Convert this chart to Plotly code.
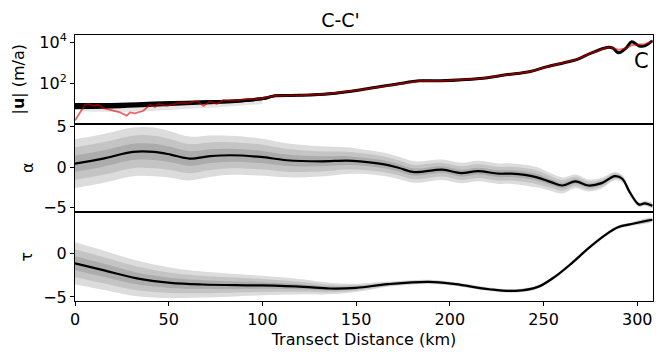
import plotly.graph_objects as go
from plotly.subplots import make_subplots

# |u| panel: ensemble median (m/a), spread in decades, and observed speed
vel_km = [0, 15, 33, 51, 68, 86, 102, 106, 120, 136, 154, 172, 184, 195, 216, 230,
          243, 252, 261, 268, 275, 284, 287, 290, 294, 297, 301, 304, 308]
vel = [7.9, 8.1, 9.1, 10.5, 12.0, 13.8, 19.5, 24.5, 26.3, 31.6, 51.3, 93.3, 132, 132, 170, 257,
       372, 646, 1000, 1445, 2818, 5495, 5012, 3020, 5012, 10233, 6457, 6457, 11482]
vel_spread = [0.15, 0.14, 0.13, 0.12, 0.1, 0.09, 0.07, 0.06, 0.05, 0.05, 0.04, 0.04, 0.04, 0.04, 0.04, 0.04,
              0.04, 0.04, 0.04, 0.04, 0.04, 0.04, 0.04, 0.04, 0.04, 0.04, 0.04, 0.04, 0.04]

faint_km = [3, 15, 30, 45, 60, 75, 90, 100]
faint_vel = [5.6, 5.2, 5.2, 6.0, 7.1, 8.5, 10.5, 12.6]

obs_km = [0, 1, 3, 5.3, 7.1, 9.8, 12.4, 15.1, 20.4, 24, 27.6, 29.4, 32, 36.5, 40, 42.7, 44.5, 49,
          56, 59.6, 65, 68.5, 72, 75.6, 79.2, 84.5, 88, 91.7, 97, 102.3, 106, 120, 136, 154, 172,
          184, 195, 216, 230, 243, 252, 261, 268, 275, 284, 287, 290, 294, 297, 301, 304, 308]
obs_vel = [1.6, 2.2, 4.3, 9.1, 10.0, 8.1, 9.1, 6.3, 4.8, 3.9, 2.7, 3.9, 3.5, 4.7, 9.1, 7.1, 10.0, 8.1,
           11.7, 11.0, 14.1, 8.1, 13.2, 10.0, 15.8, 14.5, 15.8, 17.0, 17.0, 21.4, 24.5, 26.3, 31.6, 51.3, 93.3,
           132, 132, 170, 257, 372, 646, 1000, 1445, 2818, 5495, 5248, 4169, 5012, 7079, 7586, 7943, 10965]

# alpha panel: mean and standard deviation
alpha_km = [0, 15, 31, 42, 51, 61, 72, 83, 99, 113, 131, 145, 152, 165, 173, 181, 196, 206, 215,
            226, 233, 246, 254, 260, 267, 274, 281, 288, 292, 296, 301, 304, 308]
alpha = [0.42, 1.04, 1.86, 1.86, 1.53, 1.04, 1.33, 1.45, 1.24, 0.83, 0.7, 0.79, 0.7, 0.33, -0.12, -0.62,
         -0.33, -0.74, -0.5, -0.82, -0.82, -1.24, -1.86, -2.27, -1.77, -2.27, -1.98, -1.12, -1.44, -3.1,
         -4.62, -4.46, -4.75]
alpha_sd = [1.0, 1.0, 1.0, 1.0, 0.95, 0.9, 0.85, 0.8, 0.76, 0.7, 0.62, 0.55, 0.51, 0.48, 0.46, 0.44,
            0.42, 0.42, 0.42, 0.42, 0.42, 0.42, 0.36, 0.33, 0.28, 0.25, 0.22, 0.17, 0.15, 0.13, 0.1, 0.1, 0.1]

# tau panel: mean and standard deviation
tau_km = [0, 15, 33, 51, 68, 100, 122, 136, 150, 167, 189, 203, 221, 235, 247, 256, 265, 274, 283,
          290, 297, 308]
tau = [-1.15, -1.93, -2.88, -3.39, -3.58, -3.69, -3.85, -4.04, -3.96, -3.54, -3.27, -3.54, -4.12, -4.31,
       -3.85, -2.7, -1.15, 0.58, 2.11, 3.0, 3.35, 3.84]
tau_sd = [0.8, 0.75, 0.68, 0.58, 0.5, 0.37, 0.28, 0.22, 0.16, 0.1, 0.08, 0.07, 0.07, 0.07, 0.07, 0.07,
          0.07, 0.07, 0.07, 0.07, 0.07, 0.07]

band_colors = ['#dcdcdc', '#c4c4c4', '#acacac']
FONT = 'DejaVu Sans'
# the page body has an 8px margin, so the figure is laid out 8px up/left
OFF = 8

fig = make_subplots(rows=3, cols=1, shared_xaxes=True, vertical_spacing=0,
                    row_heights=[89, 88, 89])


def add_bands(km, mean, sd, row):
    for k, col in zip([3, 2, 1], band_colors):
        hi = [m + k * s for m, s in zip(mean, sd)]
        lo = [m - k * s for m, s in zip(mean, sd)]
        fig.add_trace(go.Scatter(x=km + km[::-1], y=hi + lo[::-1], fill='toself',
                                 fillcolor=col, line=dict(width=0, shape='spline'),
                                 mode='lines', hoverinfo='skip', showlegend=False),
                      row=row, col=1)
    fig.add_trace(go.Scatter(x=km, y=mean, mode='lines',
                             line=dict(color='black', width=2.2, shape='spline'),
                             showlegend=False), row=row, col=1)


# top panel
hi = [v * 10 ** s for v, s in zip(vel, vel_spread)]
lo = [v / 10 ** s for v, s in zip(vel, vel_spread)]
fig.add_trace(go.Scatter(x=faint_km, y=faint_vel, mode='lines',
                         line=dict(color='rgba(0,0,0,0.1)', width=4, shape='spline'),
                         showlegend=False), row=1, col=1)
fig.add_trace(go.Scatter(x=vel_km + vel_km[::-1], y=hi + lo[::-1], fill='toself',
                         fillcolor='black', line=dict(width=0, shape='spline'),
                         mode='lines', showlegend=False), row=1, col=1)
fig.add_trace(go.Scatter(x=vel_km, y=vel, mode='lines',
                         line=dict(color='black', width=3, shape='spline'),
                         showlegend=False), row=1, col=1)
fig.add_trace(go.Scatter(x=obs_km, y=obs_vel, mode='lines',
                         line=dict(color='rgba(225,0,0,0.6)', width=1.8),
                         showlegend=False), row=1, col=1)

add_bands(alpha_km, alpha, alpha_sd, 2)
add_bands(tau_km, tau, tau_sd, 3)

axis_style = dict(showline=True, linecolor='black', linewidth=1, mirror=True,
                  showgrid=False, zeroline=False, ticks='outside', ticklen=4,
                  tickcolor='black', tickfont=dict(family=FONT, size=16, color='black'))

for r in (1, 2, 3):
    fig.update_xaxes(range=[0, 308.4], row=r, col=1, **axis_style)
    if r < 3:
        fig.update_xaxes(ticks='', showticklabels=False, row=r, col=1)

fig.update_xaxes(tickvals=[0, 50, 100, 150, 200, 250, 300], row=3, col=1,
                 title=dict(text='Transect Distance (km)', standoff=5,
                            font=dict(family=FONT, size=16, color='black')))

fig.update_yaxes(type='log', range=[0.03, 4.34], tickvals=[100, 10000],
                 ticktext=['10<sup>2</sup>', '10<sup>4</sup>'], row=1, col=1, **axis_style)
fig.update_yaxes(range=[-5.53, 5.29], tickvals=[-5, 0, 5], row=2, col=1, **axis_style)
fig.update_yaxes(range=[-5.47, 4.73], tickvals=[-5, 0], row=3, col=1, **axis_style)

plot_w = 665 - 75 - 12
ylabels = [('|<b>u</b>| (m/a)', 18, 'y domain'), ('α', 27, 'y2 domain'), ('τ', 26, 'y3 domain')]
for text, px, yref in ylabels:
    fig.add_annotation(text=text, x=(px - 75) / plot_w, xref='paper', y=0.5, yref=yref,
                       textangle=-90, showarrow=False, xanchor='center', yanchor='middle',
                       font=dict(family=FONT, size=16, color='black'))

fig.add_annotation(text='C', x=(641 - 75) / plot_w, xref='paper', y=(124 - 61) / 89,
                   yref='y domain', showarrow=False, xanchor='center', yanchor='middle',
                   font=dict(family=FONT, size=21, color='black'))

fig.update_layout(
    width=665, height=361,
    margin=dict(l=75 - OFF, r=12 + OFF, t=35 - OFF, b=60 + OFF),
    paper_bgcolor='white', plot_bgcolor='white',
    title=dict(text="C-C'", x=0.5, xanchor='center', y=1 - (20 - OFF) / 361, yanchor='middle',
               font=dict(family=FONT, size=19, color='black')),
    showlegend=False,
)

fig.write_html("out.html")
